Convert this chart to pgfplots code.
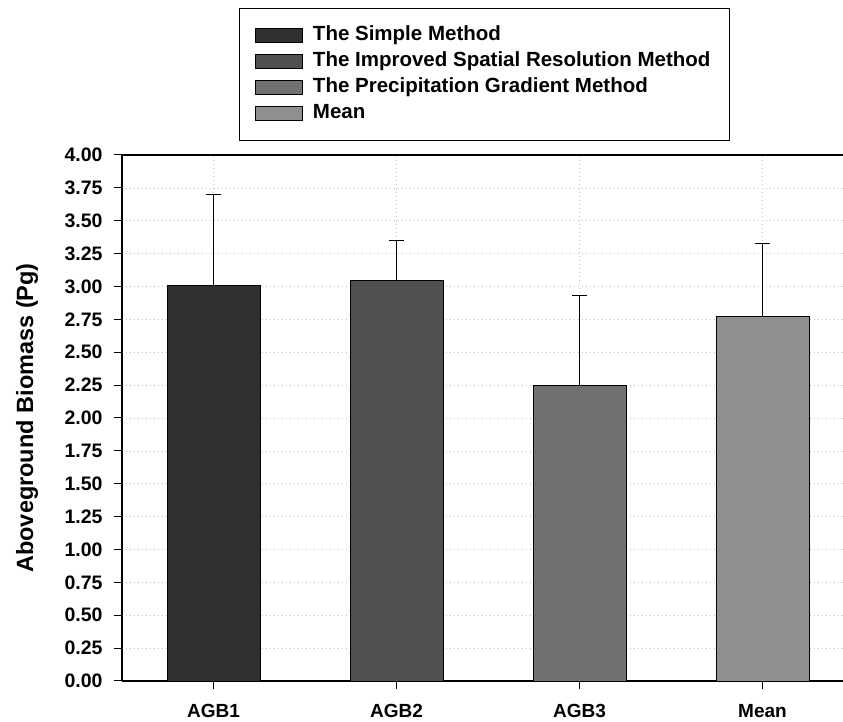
\documentclass[border=0pt]{standalone}
\usepackage{pgfplots}
\pgfplotsset{compat=1.18}
\usepackage{fontspec}
\setmainfont{Liberation Sans}
\definecolor{c1}{HTML}{303030}
\definecolor{c2}{HTML}{505050}
\definecolor{c3}{HTML}{717171}
\definecolor{c4}{HTML}{8F8F8F}
\begin{document}
\begin{tikzpicture}[x=1pt,y=1pt]
\useasboundingbox (-122,-41) rectangle (721,681);
\begin{axis}[
  at={(0,0)}, anchor=south west,
  scale only axis, width=721pt, height=526pt,
  xmin=-0.5, xmax=3.44, ymin=0, ymax=4,
  axis x line*=box, axis y line*=left,
  axis line style={line width=1.8pt},
  xtick={0,1,2,3}, xticklabels={AGB1,AGB2,AGB3,Mean},
  xtick pos=lower, ytick pos=left,
  ytick={0,0.25,...,4.01},
  tick align=outside, major tick length=8pt,
  tick style={black, line width=1pt},
  yticklabel style={font=\fontsize{19.5}{21}\selectfont\bfseries, xshift=-8pt,
    /pgf/number format/fixed, /pgf/number format/fixed zerofill,
    /pgf/number format/precision=2, /pgf/number format/assume math mode=true},
  xticklabel style={font=\fontsize{19}{21}\selectfont\bfseries, yshift=-12pt},
  ylabel={Aboveground Biomass (Pg)},
  ylabel style={font=\fontsize{23.5}{25}\selectfont\bfseries, at={(-95pt,0.5)}, anchor=center},
  xmajorgrids, ymajorgrids,
  grid style={gray!50, line width=0.6pt, dash pattern=on 1pt off 3pt},
  ybar, bar width=0.508, bar shift=0pt,
  legend style={at={(117pt,673pt)}, anchor=north west, draw=black, line width=0.8pt,
    font=\fontsize{20.5}{24}\selectfont\bfseries, inner xsep=16pt, inner ysep=14pt,
    column sep=7pt, row sep=0pt,
    nodes={inner xsep=3pt, inner ysep=3pt, text height=15.5pt, text depth=4.5pt},
    cells={anchor=west}},
  legend cell align=left,
  legend image code/.code={\draw[#1, line width=0.6pt] (0pt,-7pt) rectangle (47pt,7pt);},
  error bars/y dir=plus, error bars/y explicit,
  error bars/error bar style={black, line width=1pt},
  error bars/error mark options={rotate=90, mark size=7.5pt, line width=1.2pt},
]
\addplot[fill=c1, draw=black, line width=0.6pt] coordinates {(0,3.01) +- (0,0.69)};
\addlegendentry{The Simple Method}
\addplot[fill=c2, draw=black, line width=0.6pt] coordinates {(1,3.05) +- (0,0.30)};
\addlegendentry{The Improved Spatial Resolution Method}
\addplot[fill=c3, draw=black, line width=0.6pt] coordinates {(2,2.25) +- (0,0.68)};
\addlegendentry{The Precipitation Gradient Method}
\addplot[fill=c4, draw=black, line width=0.6pt] coordinates {(3,2.77) +- (0,0.56)};
\addlegendentry{Mean}
\end{axis}
\end{tikzpicture}
\end{document}
